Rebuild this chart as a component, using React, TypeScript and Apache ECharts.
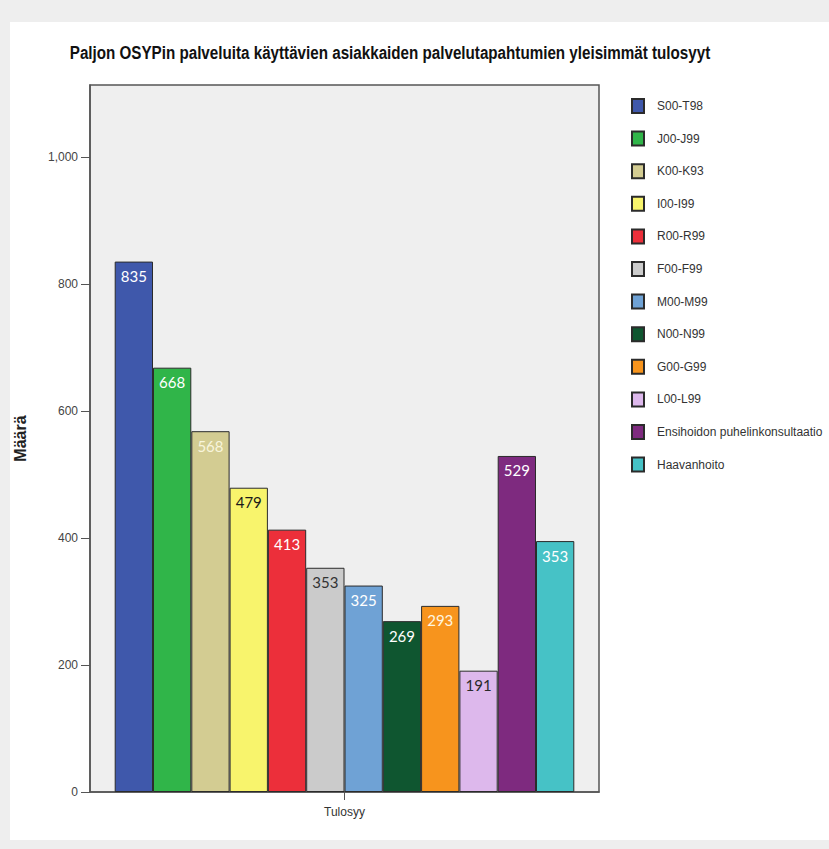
import React, { useEffect, useRef } from "react";
import * as echarts from "echarts";

const titleText = "Paljon OSYPin palveluita käyttävien asiakkaiden palvelutapahtumien yleisimmät tulosyyt";
const categories = ["Tulosyy"];
const seriesNames = [
  "S00-T98", "J00-J99", "K00-K93", "I00-I99", "R00-R99", "F00-F99",
  "M00-M99", "N00-N99", "G00-G99", "L00-L99", "Ensihoidon puhelinkonsultaatio", "Haavanhoito",
];
// bar heights as drawn in the picture
const values = [835, 668, 568, 479, 413, 353, 325, 269, 293, 191, 529, 395];
// numbers printed on the bars
const labelTexts = ["835", "668", "568", "479", "413", "353", "325", "269", "293", "191", "529", "353"];
const yTicks = [0, 200, 400, 600, 800, 1000];

const colors = [
  "#3f58ab", "#30b549", "#d3cc92", "#f8f46c", "#ec2f3a", "#cbcbcb",
  "#6fa2d5", "#0f5630", "#f7941d", "#ddb8ec", "#7e2a7f", "#46c2c6",
];
const labelColors = [
  "#ffffff", "#ffffff", "#f8f5dc", "#1a1a1a", "#ffffff", "#333333",
  "#ffffff", "#ffffff", "#fff6e0", "#2a2a2a", "#ffffff", "#ffffff",
];

const sans = "'Liberation Sans', Arial, sans-serif";

export default function App() {
  const ref = useRef<HTMLDivElement>(null);
  useEffect(() => {
    document.body.style.margin = "0";
    if (!ref.current) return;
    const chart = echarts.init(ref.current, null, { renderer: "svg" });
    const series = seriesNames.map((name, i) => ({
      type: "bar",
      name,
      data: [values[i]],
      barWidth: 38.3,
      barGap: "0%",
      itemStyle: { color: colors[i], borderColor: "#2b2b2b", borderWidth: 1 },
      label: {
        show: true,
        position: "insideTop",
        distance: 7,
        formatter: () => labelTexts[i],
        color: labelColors[i],
        fontSize: 15,
        fontFamily: "Lato, 'Open Sans', sans-serif",
      },
    }));
    chart.setOption({
      animation: false,
      backgroundColor: "transparent",
      graphic: [
        { type: "rect", z: -10, shape: { x: 10, y: 22, width: 819, height: 818 }, style: { fill: "#ffffff" } },
        {
          type: "text",
          x: 390,
          y: 52,
          scaleX: 0.8,
          style: {
            text: titleText,
            x: 0,
            y: 0,
            align: "center",
            verticalAlign: "middle",
            font: `bold 19px ${sans}`,
            fill: "#111111",
          },
        },
      ],
      grid: {
        left: 90,
        top: 85,
        right: 230,
        bottom: 57,
        show: true,
        backgroundColor: "#efefef",
        borderColor: "#555555",
        borderWidth: 1.5,
      },
      legend: {
        orient: "vertical",
        left: 626,
        top: 93,
        itemWidth: 12,
        itemHeight: 14,
        itemGap: 16.6,
        icon: "rect",
        selectedMode: false,
        textStyle: { color: "#333333", fontSize: 12, fontFamily: sans, padding: [0, 0, 0, 8] },
        data: seriesNames,
      },
      xAxis: {
        type: "category",
        data: categories,
        axisLine: { lineStyle: { color: "#555555", width: 1.5 } },
        axisTick: { show: true, length: 8, lineStyle: { color: "#555555" }, alignWithLabel: true },
        axisLabel: { color: "#333333", fontSize: 12, fontFamily: sans, margin: 14 },
      },
      yAxis: {
        type: "value",
        min: 0,
        max: 1113,
        interval: 200,
        name: "Määrä",
        nameLocation: "middle",
        nameRotate: 90,
        nameGap: 62,
        nameTextStyle: { fontSize: 16, fontWeight: "bold", color: "#222222", fontFamily: sans },
        axisLine: { show: true, lineStyle: { color: "#555555", width: 1.5 } },
        axisTick: { show: true, length: 9, lineStyle: { color: "#555555" }, customValues: yTicks },
        axisLabel: {
          color: "#444444",
          fontSize: 12,
          fontFamily: sans,
          margin: 12,
          customValues: yTicks,
          formatter: (v: number) => v.toLocaleString("en-US"),
        },
        splitLine: { show: false },
      },
      series,
    });
    return () => chart.dispose();
  }, []);
  return <div ref={ref} style={{ width: 829, height: 849, background: "#eeeeee" }} />;
}
